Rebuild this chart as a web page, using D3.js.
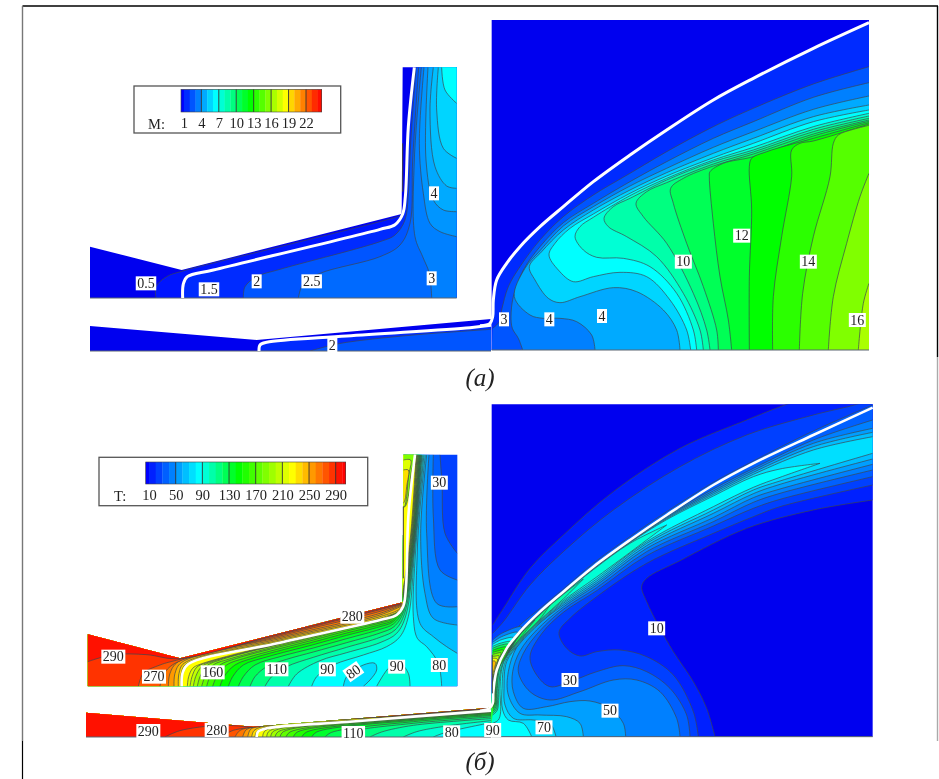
<!DOCTYPE html>
<html>
<head>
<meta charset="utf-8">
<script src="https://cdn.jsdelivr.net/npm/d3@7"></script>
<style>
  html, body { margin: 0; background: #fff; }
  svg { display: block; filter: blur(0.4px); }
  text { font-family: "Liberation Serif", serif; fill: #222; }
</style>
</head>
<body>
<div id="chart"></div>
<script>
// Field values are digitised isolines: x along the nozzle, y above the axis, in digitiser units.

// --- legends
const mLegendTicks = [1, 4, 7, 10, 13, 16, 19, 22];
const mLegendEdges = [0.5, 1, 2, 3, 4, 5, 6, 7, 8, 9, 10, 11, 12, 13, 14, 15, 16, 17, 18, 19, 20, 21, 22, 23, 24, 24.7];
const tLegendTicks = [10, 50, 90, 130, 170, 210, 250, 290];
const tLegendEdges = [5, 10, 20, 30, 40, 50, 60, 70, 80, 90, 100, 110, 120, 130, 140, 150, 160, 170, 180, 190, 200, 210, 220, 230, 240, 250, 260, 270, 280, 290, 300, 305];

// --- (a) Mach number, expansion side
const mRightShock = [[1167,38],[1000,115],[820,205],[700,270],[560,360],[450,435],[340,515],[250,590],[180,650],[120,710],[80,760],[50,810],[40,870],[38,920],[30,940],[0,947]];
const mRightLevels = [2, 3, 4, 5, 6, 7, 8, 9, 10, 11, 12, 13, 14, 15, 16];
const mRightPaths = [
  [[1167,170],[1000,222],[820,295],[700,350],[560,425],[450,490],[340,555],[250,620],[180,690],[120,770],[85,830],[65,900],[58,935],[38,955]],
  [[1167,218],[1000,262],[820,335],[700,385],[560,455],[450,515],[340,580],[250,638],[180,710],[130,780],[100,860],[93,920],[97,955],[115,985],[128,1020]],
  [[1167,258],[1000,298],[820,365],[700,412],[560,475],[450,528],[340,590],[250,648],[180,722],[135,775],[103,860],[150,915],[190,925],[240,925],[290,935],[335,975],[345,1020]],
  [[1167,285],[1000,320],[820,385],[700,430],[560,488],[450,540],[340,600],[250,660],[185,725],[148,770],[165,810],[205,865],[240,878],[300,860],[400,833],[470,845],[550,900],[590,960],[600,1020]],
  [[1167,300],[1000,335],[820,400],[700,443],[560,498],[450,550],[340,612],[270,655],[225,700],[207,735],[235,780],[280,815],[340,800],[420,787],[500,800],[570,870],[620,960],[632,1020]],
  [[1167,310],[1000,350],[820,412],[700,450],[560,505],[450,557],[340,622],[300,650],[285,680],[310,720],[350,742],[430,745],[510,770],[590,850],[640,960],[650,1020]],
  [[1167,318],[1000,358],[820,420],[700,455],[560,510],[450,565],[400,590],[372,625],[385,650],[440,680],[530,740],[610,850],[660,960],[670,1020]],
  [[1167,325],[1000,365],[820,426],[700,462],[560,518],[500,545],[468,580],[490,620],[560,700],[640,850],[680,960],[690,1020]],
  [[1167,330],[1000,372],[820,432],[700,468],[610,505],[572,535],[580,580],[620,700],[670,830],[710,960],[715,1020]],
  [[1167,334],[1000,378],[820,440],[730,460],[690,485],[688,500],[700,640],[720,800],[745,930],[755,1020]],
  [[1167,338],[1000,385],[860,425],[815,445],[808,470],[815,600],[808,800],[808,1020]],
  [[1167,342],[1000,393],[960,400],[935,420],[935,500],[905,680],[880,860],[878,1020]],
  [[1167,346],[1120,358],[1075,375],[1060,400],[1050,500],[1000,680],[968,850],[958,1020]],
  [[1167,490],[1140,560],[1100,700],[1060,860],[1045,1020]],
  [[1167,820],[1150,880],[1135,1020]]
];
const mRightLabels = [[72,928,"3"],[208,928,"4"],[366,918,"4"],[610,755,"10"],[785,677,"12"],[985,755,"14"],[1132,930,"16"]];

// --- (a) Mach number, nozzle side
const mLeftWall = [[30,560],[305,630],[965,462],[968,22],[1130,22],[1130,714],[30,714]];
const mLeftSonic = [[308,714],[310,672],[322,650],[400,630],[900,508],[945,494],[968,462],[976,410],[985,200],[1003,22]];
const mLeftLevels = [0.5, 1, 2, 2.5, 3, 3.5, 4, 4.5, 5, 6];
const mLeftPaths = [
  [[228,714],[228,680],[260,650],[305,634],[600,560],[900,485],[960,468]],
  mLeftSonic,
  [[490,714],[495,680],[530,650],[600,628],[900,545],[945,525],[975,480],[985,400],[992,250],[1008,22]],
  [[655,714],[670,670],[720,640],[900,590],[960,555],[990,490],[998,300],[1016,22]],
  [[1055,714],[1048,640],[1028,590],[1005,530],[1003,300],[1024,22]],
  [[1130,530],[1080,515],[1050,490],[1030,400],[1018,250],[1032,22]],
  [[1130,455],[1090,450],[1060,420],[1038,300],[1044,22]],
  [[1130,385],[1100,378],[1065,320],[1050,150],[1060,22]],
  [[1130,295],[1090,265],[1070,150],[1075,22]],
  [[1130,130],[1095,90],[1085,22]]
];
const mLeftLabels = [[198,670,"0.5"],[387,688,"1.5"],[530,664,"2"],[695,664,"2.5"],[1055,655,"3"],[1062,400,"4"],[757,855,"2"]];
const mLeftWallMark = [[968,250],[968,395]];

// --- (a) Mach number, nozzle strip
const mStripWall = [[30,798],[530,840],[1233,777],[1233,873],[30,873]];
const mStripSonic = [[537,873],[540,855],[560,847],[800,828],[1170,803],[1233,796]];
const mStripLevels = [1, 2];
const mStripPaths = [
  mStripSonic,
  [[690,873],[745,858],[800,847],[1000,825],[1233,808]]
];

// --- (b) temperature, expansion side
const tRightShock = [[1178,38],[1000,120],[820,205],[700,270],[560,360],[450,435],[340,515],[250,590],[180,650],[120,710],[80,760],[50,825],[40,890],[38,925],[28,940],[0,947]];
const tRightLevels = [10, 20, 30, 40, 50, 60, 70, 80, 90, 100, 110, 120, 130, 150, 170];
const tRightLower = [
  [[705,1025],[680,940],[640,860],[580,770],[540,700],[500,620],[485,575],[500,550],[600,497],[800,400],[1000,345],[1178,315]],
  [[655,1025],[640,950],[580,840],[500,785],[420,765],[350,770],[300,783],[260,760],[237,712],[270,670],[350,605],[500,505],[700,415],[820,365],[900,335],[1178,270]],
  [[630,1025],[620,960],[570,880],[500,830],[430,812],[350,830],[270,860],[210,875],[170,840],[150,785],[185,716],[250,652],[350,587],[500,482],[700,393],[820,340],[900,313],[1178,245]],
  [[600,1025],[590,970],[540,890],[470,855],[400,855],[300,890],[210,915],[150,890],[115,830],[130,775],[180,707],[250,643],[350,578],[500,470],[700,380],[820,322],[900,295],[1178,225]],
  [[437,1025],[430,985],[390,940],[330,918],[270,920],[200,935],[130,940],[100,890],[98,830],[120,768],[170,705],[250,636],[350,570],[500,460],[700,368],[820,308],[900,282],[1178,208]],
  [[310,1025],[300,985],[260,965],[180,960],[120,955],[85,900],[85,830],[110,757],[160,700],[250,630],[350,564],[500,452],[700,355],[820,296],[900,268],[1178,192]],
  [[228,1025],[210,985],[160,975],[100,970],[75,930],[72,880],[80,800],[120,745],[180,684],[250,625],[350,558],[500,445],[700,345],[820,285],[900,258],[1178,175]],
  [[155,1025],[130,985],[85,975],[68,945],[66,880],[76,800],[120,742],[180,681],[250,621],[350,552],[500,440],[700,335],[820,277],[900,247],[1020,205]],
  [[38,985],[55,975],[62,950],[60,880],[72,800],[120,739],[180,678],[250,617],[350,546],[500,435],[560,390]],
  [[38,960],[52,945],[56,880],[68,805],[120,736],[180,675],[250,612],[310,552]],
  [[38,955],[50,940],[52,880],[64,805],[120,733],[180,672],[210,630]],
  [[38,950],[48,935],[50,880],[60,810],[120,730],[165,675]],
  [[38,945],[46,930],[47,880],[56,815],[95,750],[130,705]],
  [[38,940],[44,925],[45,880],[52,820],[80,770],[100,740]],
  [[38,938],[43,920],[43,880],[48,825],[75,775]]
];
const tRightUpper = [
  [[1178,-60],[920,28],[800,75],[600,160],[400,290],[250,420],[150,520],[70,640],[38,690]],
  [[1178,10],[1130,28],[1000,60],[800,120],[600,215],[400,345],[250,470],[150,570],[70,680],[38,715]],
  [[1178,30],[1000,108],[820,198],[700,262],[560,350],[450,425],[340,505],[250,582],[180,640],[110,700],[60,765],[38,790]],
  [[1178,75],[1000,135],[820,220],[700,282],[560,362],[450,437],[340,517],[250,592],[180,652],[120,712],[80,765],[38,800]],
  [[1178,100],[1000,145],[820,226],[700,288],[560,365],[450,438.5],[340,519],[250,593],[180,653],[120,713],[80,767],[38,805]],
  [[1178,112],[1000,155],[820,232],[700,293],[560,368],[450,440],[340,520],[250,594],[180,654],[120,714],[80,769],[38,810]],
  [[1178,125],[1000,165],[820,238],[700,298],[560,371],[450,441.5],[340,521],[250,595],[180,655],[120,715],[80,771],[38,815]],
  [[1020,205],[900,222],[820,245],[700,303],[560,374],[450,443],[340,522],[250,596],[180,656],[120,716],[80,773],[38,820]],
  [[560,390],[450,445],[340,524],[250,597],[180,657],[120,717],[80,775],[38,825]],
  [[310,552],[250,598],[180,658],[120,718],[80,777],[38,830]],
  [[210,630],[180,659],[120,719],[80,779],[38,835]],
  [[165,675],[120,720],[80,781],[38,838]],
  [[130,705],[100,735],[78,783],[38,842]],
  [[100,740],[75,785],[38,848]],
  [[75,775],[55,805],[38,850]]
];
const tWedgeLevels = [40, 60, 80, 100, 120, 140, 160, 180, 200, 220, 240];
const tWedgePaths = [
  [[38,735],[65,715],[125,695],[85,750],[55,800],[38,865]],
  [[38,742],[65,725],[112,712],[80,757],[52,805],[38,862]],
  [[38,748],[62,735],[100,728],[76,763],[50,810],[38,860]],
  [[38,754],[60,745],[92,740],[72,770],[49,815],[38,858]],
  [[38,760],[57,752],[85,748],[68,776],[48,820],[38,856]],
  [[38,766],[54,760],[78,756],[64,782],[47,825],[38,854]],
  [[38,772],[52,768],[70,765],[60,788],[46,828],[38,852]],
  [[38,778],[50,775],[63,773],[56,794],[45,830],[38,850]],
  [[38,784],[48,783],[57,782],[52,802],[44,832],[38,848]],
  [[38,790],[46,790],[52,792],[48,810],[43,832],[38,845]],
  [[38,798],[44,798],[47,802],[44,818],[38,840]]
];
const tRightLabels = [[38,1005,"90"],[192,997,"70"],[390,947,"50"],[270,855,"30"],[530,700,"10"]];
const tRightWallMark = [[37,780],[37,895]];

// --- (b) temperature, nozzle side
const tLeftWall = [[23,553],[300,625],[968,457],[970,14],[1132,14],[1132,709],[23,709]];
const tLeftSonic = [[305,709],[308,668],[325,642],[600,578],[900,510],[950,495],[970,468],[978,410],[985,200],[1005,14]];
const tLeftLevels = [30, 40, 50, 60, 70, 80, 90, 100, 110, 120, 130, 140, 150, 160, 170, 180, 190, 200, 210, 220, 230, 240, 250, 260, 270, 280, 290];
const tLeftPaths = [
  [[1132,310],[1095,250],[1086,100],[1080,14]],
  [[1132,390],[1080,360],[1060,200],[1060,14]],
  [[1132,470],[1070,460],[1040,250],[1047,14]],
  [[1132,525],[1060,505],[1035,430],[1022,250],[1040,14]],
  [[1132,610],[1100,590],[1060,560],[1020,520],[1012,300],[1036,14]],
  [[1085,709],[1075,640],[1040,590],[1012,565],[1000,500],[1007,300],[1032,14]],
  [[695,709],[710,680],[760,645],[850,615],[920,590],[960,560],[985,500],[1004,300],[1029,14]],
  [[625,709],[650,672],[720,632],[800,608],[900,578],[950,550],[978,495],[1002,300],[1026,14]],
  [[555,709],[575,680],[620,650],[700,622],[800,592],[900,562],[945,540],[974,490],[1001,300],[1024.5,14]],
  [[510,709],[525,680],[560,650],[620,628],[700,606],[800,578],[900,549],[942,530],[971,485],[999.5,300],[1023,14]],
  [[475,709],[490,680],[525,645],[600,620],[700,594],[800,566],[900,538],[940,522],[969,480],[998,300],[1021.5,14]],
  [[445,709],[458,680],[490,645],[560,621],[700,584],[800,556],[900,530],[938,516],[967,476],[997,300],[1020,14]],
  [[420,709],[432,680],[465,645],[530,621],[700,576],[800,549],[900,524],[936,512],[965,473],[996,300],[1018.5,14]],
  [[398,709],[410,680],[440,645],[500,623],[700,570],[800,543],[900,519],[934,508],[963,470],[994.5,300],[1017,14]],
  [[380,709],[390,680],[420,645],[470,625],[700,565],[800,538],[900,515],[932,505],[961,468],[993,300],[1015.5,14]],
  [[365,709],[375,680],[400,645],[445,628],[700,561],[800,535],[900,513],[930,503],[959,467],[992,300],[1014,14]],
  [[352,709],[360,680],[380,648],[420,630],[700,558],[800,532],[900,511],[929,502],[958,466],[991,300],[1012.5,14]],
  [[340,709],[347,680],[365,650],[400,634],[700,557],[900,510],[928,501],[957,465],[989.5,300],[1011,14]],
  [[330,709],[336,680],[350,652],[380,638],[700,556],[900,509],[927,500],[956,464],[988,300],[1009.5,14]],
  [[322,709],[326,680],[338,655],[360,643],[700,555],[900,508],[926,499],[955,463],[987,300],[1008,14]],
  [[303,709],[304,670],[318,642],[600,574],[900,505],[960,480],[972,455]],
  [[295,709],[297,670],[312,640],[600,570],[900,500],[960,476],[970,458]],
  [[282,709],[285,670],[305,637],[600,566],[900,495],[965,468]],
  [[265,709],[270,670],[295,635],[600,562],[900,490],[965,465]],
  [[240,709],[250,675],[285,640],[600,558],[900,484],[965,463]],
  [[175,709],[190,670],[240,645],[300,628],[600,554],[900,479],[966,461]],
  [[23,635],[100,614],[200,614],[296,626],[600,551],[900,476],[967,459]]
];
// closed pockets drawn over the bands: dome, cold lobe, and the wedge next to the wall
const tPocketFill = [100, 80, 190, 220, 240];
const tPocketPaths = [
  [[890,709],[930,650],[960,640],[985,670],[990,709]],
  [[790,709],[800,680],[850,645],[885,640],[890,660],[870,690],[850,709]],
  [[970,14],[1002,14],[993,70],[985,140],[975,170],[970,170]],
  [[970,30],[992,30],[985,80],[980,140],[973,170],[970,170]],
  [[970,60],[985,60],[980,110],[975,150],[970,160]]
];
const tLeftLabels = [[100,620,"290"],[222,680,"270"],[398,667,"160"],[590,658,"110"],[742,658,"90"],[950,650,"90"],[1078,645,"80"],[817,500,"280"],[1078,98,"30"],[205,843,"290"],[410,840,"280"],[820,849,"110"],[1115,847,"80"]];
const tLeftTiltedLabels = [[820,665,"80"]];
const tLeftWallMark = [[970,170],[970,385]];

// --- (b) temperature, nozzle strip
const tStripWall = [[18,788],[520,830],[1233,773],[1233,861],[18,861]];
const tStripSonic = [[530,861],[534,845],[560,835],[800,816],[1000,800],[1233,782]];
const tStripLevels = [90, 100, 110, 120, 130, 140, 150, 160, 170, 180, 190, 200, 210, 220, 230, 240, 250, 260, 270, 280, 290];
const tStripPaths = [
  [[1060,861],[1095,848],[1233,818]],
  [[970,861],[1010,845],[1100,828],[1233,812]],
  [[870,861],[905,846],[1000,826],[1233,806]],
  [[785,861],[815,845],[1000,820],[1233,801]],
  [[735,861],[755,847],[1000,815],[1233,797]],
  [[695,861],[710,846],[1000,811],[1233,794]],
  [[665,861],[680,846],[1000,808],[1233,791]],
  [[640,861],[652,846],[1000,806],[1233,789]],
  [[618,861],[630,846],[1000,804],[1233,787]],
  [[600,861],[610,845],[1000,803],[1233,786]],
  [[585,861],[595,845],[1000,802],[1233,785]],
  [[572,861],[580,844],[1000,801],[1233,784]],
  [[560,861],[568,843],[1000,800.5],[1233,783]],
  [[548,861],[556,842],[1000,800],[1233,782]],
  [[525,861],[530,845],[580,826],[1000,796],[1233,777]],
  [[515,861],[522,842],[560,827],[1000,795],[1233,776]],
  [[503,861],[512,838],[545,829],[1000,794],[1233,775.5]],
  [[488,861],[498,840],[530,830],[1000,793],[1233,775]],
  [[465,861],[478,843],[515,831],[1000,792.5],[1233,774.5]],
  [[430,861],[450,845],[510,832],[1000,792],[1233,774]],
  [[255,861],[300,842],[420,826],[520,832]]
];

// --- page furniture
const captions = ["(а)", "(б)"];

const width = 939, height = 779;
const lineColor = "#3c4650";

const svg = d3.select("#chart").append("svg")
  .attr("width", width)
  .attr("height", height);
const defs = svg.append("defs");

const rainbow = ["#0000b0", "#0000ff", "#00ffff", "#00ff00", "#ffff00", "#ff0000"];
const mColor = d3.scaleLinear().domain([0, 1, 7, 13, 19, 25]).range(rainbow);
const tColor = d3.scaleLinear().domain([0, 10, 90, 150, 230, 305]).range(rainbow);

// scales of the four digitised sheets
const mRightX = d3.scaleLinear().domain([35, 1167]).range([491.67, 869]);
const mRightY = d3.scaleLinear().domain([30, 1020]).range([20, 350]);
const mLeftX = d3.scaleLinear().domain([30, 1130]).range([90, 456.67]);
const mLeftY = d3.scaleLinear().domain([22, 714]).range([67.33, 298]);
const tRightX = d3.scaleLinear().domain([35, 1178]).range([491.67, 872.67]);
const tRightY = d3.scaleLinear().domain([28, 1025]).range([404.33, 736.67]);
const tLeftX = d3.scaleLinear().domain([23, 1132]).range([87.67, 457.33]);
const tLeftY = d3.scaleLinear().domain([14, 709]).range([454.67, 686.33]);

let clipCount = 0;

function smooth(x, y) {
  return d3.line()
    .x(d => x(d[0]))
    .y(d => y(d[1]))
    .curve(d3.curveCatmullRom.alpha(0.5));
}

function clipGroup(x, y, polygon) {
  const id = "clip" + (clipCount++);
  defs.append("clipPath").attr("id", id)
    .append("polygon")
    .attr("points", polygon.map(d => [x(d[0]), y(d[1])].join(",")).join(" "));
  return svg.append("g").attr("clip-path", `url(#${id})`);
}

// A band is the part of the sheet on the far side of an isoline. segments are smoothed on their own
// and joined with straight runs, closing runs along the plot edge.
function drawBand(g, x, y, segments, closing, fill) {
  const line = smooth(x, y);
  const fillPath = segments.map((s, i) => i ? "L" + line(s).slice(1) : line(s)).join("")
    + closing.map(d => `L${x(d[0])},${y(d[1])}`).join("") + "Z";
  g.append("path").attr("d", fillPath).attr("fill", fill);
  g.append("path")
    .attr("d", segments.map(s => line(s)).join(""))
    .attr("fill", "none")
    .attr("stroke", lineColor)
    .attr("stroke-width", 0.7);
}

function drawLabels(x, y, labels, angle) {
  const g = svg.append("g");
  labels.forEach(([lx, ly, text]) => {
    const item = g.append("g")
      .attr("transform", `translate(${x(lx)},${y(ly)}) rotate(${angle || 0})`);
    const box = item.append("rect").attr("fill", "#fff");
    const label = item.append("text")
      .attr("text-anchor", "middle")
      .attr("dy", "0.34em")
      .attr("font-size", 14)
      .text(text);
    const w = label.node().getBBox().width;
    box.attr("x", -w / 2 - 1.5).attr("y", -7).attr("width", w + 3).attr("height", 14);
  });
}

function drawStroke(x, y, points, color, strokeWidth) {
  svg.append("path")
    .attr("d", smooth(x, y)(points))
    .attr("fill", "none")
    .attr("stroke", color)
    .attr("stroke-width", strokeWidth);
}

function drawBottomLine(x, y, x0, x1, yValue) {
  svg.append("line")
    .attr("x1", x(x0)).attr("x2", x(x1))
    .attr("y1", y(yValue)).attr("y2", y(yValue))
    .attr("stroke", "#5a6470")
    .attr("stroke-width", 1);
}

function drawMach() {
  // nozzle side
  let g = clipGroup(mLeftX, mLeftY, mLeftWall);
  g.append("rect").attr("width", width).attr("height", height).attr("fill", mColor(0.8));
  mLeftLevels.forEach((level, i) => {
    drawBand(g, mLeftX, mLeftY, [mLeftPaths[i]], [[1130, 22], [1130, 714]], mColor(level + 1));
  });

  // expansion side
  g = clipGroup(mRightX, mRightY, [[35, 30], [1167, 30], [1167, 1020], [35, 1020]]);
  g.append("rect").attr("width", width).attr("height", height).attr("fill", mColor(0.8));
  drawBand(g, mRightX, mRightY, [mRightShock], [[0, 1020], [1167, 1020]], mColor(2));
  mRightLevels.forEach((level, i) => {
    drawBand(g, mRightX, mRightY, [mRightPaths[i]], [[35, 1020], [1167, 1020]], mColor(level + 1));
  });

  // strip below the nozzle, on the same sheet as the nozzle side
  g = clipGroup(mLeftX, mLeftY, mStripWall);
  g.append("rect").attr("width", width).attr("height", height).attr("fill", mColor(0.8));
  mStripLevels.forEach((level, i) => {
    drawBand(g, mLeftX, mLeftY, [mStripPaths[i]], [[1233, 873]], mColor(level + 1));
  });

  drawBottomLine(mLeftX, mLeftY, 30, 1130, 714);
  drawBottomLine(mLeftX, mLeftY, 30, 1233, 873);
  drawBottomLine(mRightX, mRightY, 35, 1167, 1020);

  drawStroke(mLeftX, mLeftY, mLeftSonic, "#fff", 3);
  drawStroke(mLeftX, mLeftY, mStripSonic, "#fff", 3);
  drawStroke(mRightX, mRightY, mRightShock, "#fff", 3);
  drawStroke(mLeftX, mLeftY, mLeftWallMark, "#444", 1);

  drawLabels(mLeftX, mLeftY, mLeftLabels);
  drawLabels(mRightX, mRightY, mRightLabels);
}

function drawTemperature() {
  // nozzle side
  let g = clipGroup(tLeftX, tLeftY, tLeftWall);
  g.append("rect").attr("width", width).attr("height", height).attr("fill", tColor(30));
  tLeftLevels.forEach((level, i) => {
    const p = tLeftPaths[i];
    const closing = p[0][0] <= 23 ? [[23, 14]] : [[23, 14], [23, 709], [1132, 709]];
    drawBand(g, tLeftX, tLeftY, [p], closing, tColor(level + 10));
  });
  tPocketPaths.forEach((p, i) => {
    drawBand(g, tLeftX, tLeftY, [p], [], tColor(tPocketFill[i]));
  });

  // expansion side
  g = clipGroup(tRightX, tRightY, [[35, 28], [1178, 28], [1178, 1025], [35, 1025]]);
  g.append("rect").attr("width", width).attr("height", height).attr("fill", tColor(8));
  tRightLevels.forEach((level, i) => {
    drawBand(g, tRightX, tRightY, [tRightLower[i], tRightUpper[i]], [[30, 1025]], tColor(level + 10));
  });
  tWedgeLevels.forEach((level, i) => {
    drawBand(g, tRightX, tRightY, [tWedgePaths[i]], [], tColor(level + 10));
  });

  // strip below the nozzle
  g = clipGroup(tLeftX, tLeftY, tStripWall);
  g.append("rect").attr("width", width).attr("height", height).attr("fill", tColor(90));
  tStripLevels.forEach((level, i) => {
    drawBand(g, tLeftX, tLeftY, [tStripPaths[i]], [[1233, 700], [18, 700], [18, 861]], tColor(level + 10));
  });

  drawBottomLine(tRightX, tRightY, 35, 1178, 1025);
  drawBottomLine(tLeftX, tLeftY, 18, 1233, 861);

  drawStroke(tLeftX, tLeftY, tLeftSonic, "#fff", 2.6);
  drawStroke(tLeftX, tLeftY, tStripSonic, "#fff", 2.6);
  drawStroke(tRightX, tRightY, tRightShock, "#fff", 2.6);
  drawStroke(tLeftX, tLeftY, tLeftWallMark, "#444", 1);
  drawStroke(tRightX, tRightY, tRightWallMark, "#444", 1);

  drawLabels(tLeftX, tLeftY, tLeftLabels);
  drawLabels(tLeftX, tLeftY, tLeftTiltedLabels, -35);
  drawLabels(tRightX, tRightY, tRightLabels);
}

function drawLegend(opts) {
  const { x0, x1, y0, y1, box, edges, ticks, color, title, titleX } = opts;
  svg.append("rect")
    .attr("x", box[0]).attr("y", box[1])
    .attr("width", box[2] - box[0]).attr("height", box[3] - box[1])
    .attr("fill", "#fff")
    .attr("stroke", "#555")
    .attr("stroke-width", 1.3);

  const x = d3.scaleLinear().domain(d3.extent(edges)).range([x0, x1]);

  svg.append("g").selectAll("rect")
    .data(d3.pairs(edges))
    .join("rect")
    .attr("x", d => x(d[0]))
    .attr("y", y0)
    .attr("width", d => x(d[1]) - x(d[0]) + 0.3)
    .attr("height", y1 - y0)
    .attr("fill", d => color(d[1]));

  svg.append("g").selectAll("line")
    .data(ticks.slice(1))
    .join("line")
    .attr("x1", d => x(d)).attr("x2", d => x(d))
    .attr("y1", y0).attr("y2", y1)
    .attr("stroke", "#333")
    .attr("stroke-width", 0.9);

  svg.append("rect")
    .attr("x", x0).attr("y", y0)
    .attr("width", x1 - x0).attr("height", y1 - y0)
    .attr("fill", "none")
    .attr("stroke", "#444")
    .attr("stroke-width", 0.6);

  const axis = svg.append("g")
    .attr("transform", `translate(0,${y1})`)
    .call(d3.axisBottom(x).tickValues(ticks).tickSize(0).tickPadding(6).tickFormat(d3.format("d")));
  axis.select(".domain").remove();
  axis.selectAll("text")
    .attr("font-size", 14.5)
    .attr("font-family", "Liberation Serif")
    .attr("fill", "#222");

  svg.append("text")
    .attr("x", titleX)
    .attr("y", y1 + 17)
    .attr("font-size", 14.5)
    .text(title);
}

function drawFrame() {
  const frame = [
    [22.5, 6, 938, 6, "#000", 1.4],
    [22.5, 6, 22.5, 741, "#777", 1.4],
    [22.5, 741, 22.5, 779, "#000", 1.2],
    [937.5, 6, 937.5, 357, "#000", 1.4],
    [937.5, 357, 937.5, 741, "#aaa", 1.4]
  ];
  svg.append("g").selectAll("line")
    .data(frame)
    .join("line")
    .attr("x1", d => d[0]).attr("y1", d => d[1])
    .attr("x2", d => d[2]).attr("y2", d => d[3])
    .attr("stroke", d => d[4])
    .attr("stroke-width", d => d[5]);

  svg.append("g").selectAll("text")
    .data(captions)
    .join("text")
    .attr("x", 480)
    .attr("y", (d, i) => [386, 770][i])
    .attr("text-anchor", "middle")
    .attr("font-size", 25)
    .attr("font-style", "italic")
    .text(d => d);
}

drawMach();
drawTemperature();

drawLegend({
  x0: 181, x1: 321.7, y0: 89.3, y1: 112,
  box: [134, 86, 340.7, 133],
  edges: mLegendEdges, ticks: mLegendTicks, color: mColor,
  title: "M:", titleX: 148
});
drawLegend({
  x0: 145.7, x1: 345.7, y0: 462, y1: 484,
  box: [99, 457.3, 367.7, 505.7],
  edges: tLegendEdges, ticks: tLegendTicks, color: tColor,
  title: "T:", titleX: 114
});

drawFrame();
</script>
</body>
</html>
